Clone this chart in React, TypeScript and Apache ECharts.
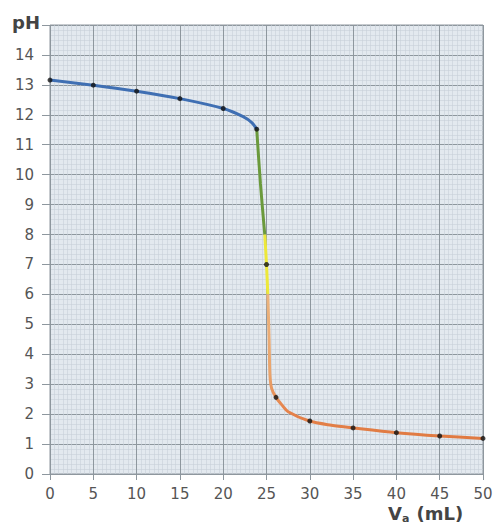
import React, { useEffect, useRef } from "react";
import * as echarts from "echarts";

const xTicks = [0, 5, 10, 15, 20, 25, 30, 35, 40, 45, 50];
const yTicks = [0, 1, 2, 3, 4, 5, 6, 7, 8, 9, 10, 11, 12, 13, 14];

const blueX = [0, 5, 10, 15, 20, 22.3, 23.3, 23.87];
const blueY = [13.16, 12.99, 12.79, 12.54, 12.21, 11.94, 11.74, 11.52];
const greenX = [23.87, 24.3, 24.8];
const greenY = [11.52, 9.7, 8.0];
const yellowX = [24.8, 25.0, 25.15];
const yellowY = [8.0, 7.0, 6.0];
const orangeX = [25.15, 25.3, 25.4, 25.6, 26.1, 26.8, 27.5, 29.94, 32.5, 35, 40, 45, 50];
const orangeY = [6.0, 4.5, 3.3, 2.85, 2.56, 2.3, 2.08, 1.77, 1.63, 1.54, 1.38, 1.27, 1.19];
const dotX = [0, 5, 10, 15, 20, 23.87, 25, 26.1, 30, 35, 40, 45, 50];
const dotY = [13.16, 12.99, 12.79, 12.54, 12.21, 11.52, 7.0, 2.56, 1.77, 1.54, 1.38, 1.27, 1.19];

const zip = (xs: number[], ys: number[]) => xs.map((x, i) => [x, ys[i]]);

const FONT = "DejaVu Sans";

export default function App() {
  const ref = useRef<HTMLDivElement>(null);
  useEffect(() => {
    if (!ref.current) return;
    const chart = echarts.init(ref.current, undefined, { renderer: "svg" });
    const lineSeries = (data: number[][], color: any) => ({
      type: "line",
      data,
      smooth: 0.3,
      symbol: "none",
      lineStyle: { color, width: 3 },
      z: 3,
    });
    chart.setOption({
      animation: false,
      backgroundColor: "#ffffff",
      grid: {
        left: 50,
        right: 13,
        top: 25,
        bottom: 51,
        show: true,
        backgroundColor: "#e3e9ef",
        borderColor: "#8e979e",
        borderWidth: 1,
      },
      xAxis: {
        type: "value",
        min: 0,
        max: 50,
        interval: 5,
        axisLine: { show: false },
        axisTick: { show: true, length: 6, lineStyle: { color: "#8e979e" } },
        axisLabel: {
          margin: 12,
          color: "#555",
          fontSize: 15,
          fontFamily: FONT,
          formatter: (v: number) => (xTicks.includes(v) ? String(v) : ""),
        },
        splitLine: { show: true, lineStyle: { color: "#8e979e", width: 1 } },
        minorTick: { show: false, splitNumber: 10 },
        minorSplitLine: { show: true, lineStyle: { color: "#c8d0d8", width: 0.6 } },
      },
      yAxis: {
        type: "value",
        min: 0,
        max: 15,
        interval: 1,
        axisLine: { show: false },
        axisTick: { show: true, length: 8, lineStyle: { color: "#8e979e" } },
        axisLabel: {
          margin: 16,
          color: "#555",
          fontSize: 15,
          fontFamily: FONT,
          formatter: (v: number) => (yTicks.includes(v) ? String(v) : ""),
        },
        splitLine: { show: true, lineStyle: { color: "#8e979e", width: 1 } },
        minorTick: { show: false, splitNumber: 6 },
        minorSplitLine: { show: true, lineStyle: { color: "#c8d0d8", width: 0.6 } },
      },
      graphic: [
        {
          type: "text",
          left: 12,
          top: 13,
          style: {
            text: "pH",
            fontSize: 18,
            fontWeight: "bold",
            fontFamily: FONT,
            fill: "#444",
          },
        },
        {
          type: "text",
          left: 388,
          top: 503,
          style: {
            text: "{v|V}{s|a}{v| (mL)}",
            fontFamily: FONT,
            fill: "#444",
            rich: {
              v: { fontSize: 18, fontWeight: "bold", fontFamily: FONT, fill: "#444", lineHeight: 20 },
              s: { fontSize: 11, fontWeight: "bold", fontFamily: FONT, fill: "#444", lineHeight: 20, padding: [10, 1, 0, 0] },
            },
          },
        },
      ],
      series: [
        lineSeries(zip(blueX, blueY), "#3f6fb3"),
        lineSeries(zip(greenX, greenY), "#6b9a3c"),
        lineSeries(zip(yellowX, yellowY), "#ede83a"),
        lineSeries(zip(orangeX, orangeY), {
          type: "linear",
          x: 0,
          y: 0,
          x2: 0,
          y2: 1,
          colorStops: [
            { offset: 0, color: "#ecb47e" },
            { offset: 0.55, color: "#eaa46c" },
            { offset: 0.8, color: "#e5834c" },
            { offset: 1, color: "#e07a42" },
          ],
        }),
        {
          type: "scatter",
          data: zip(dotX, dotY),
          symbol: "circle",
          symbolSize: 5,
          itemStyle: { color: "#111" },
          z: 5,
        },
      ],
    });
    return () => chart.dispose();
  }, []);
  return <div ref={ref} style={{ width: 496, height: 525, position: "absolute", left: 0, top: 0 }} />;
}
